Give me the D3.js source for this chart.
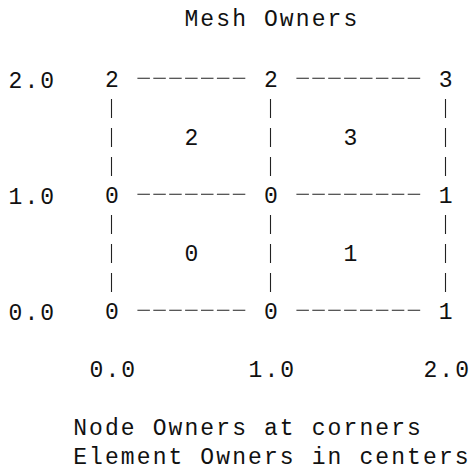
<!DOCTYPE html>
<html><head>
<meta charset="utf-8">
<title>Mesh Owners</title>
<script src="https://d3js.org/d3.v7.min.js"></script>
<style>
  body { margin: 0; background: white; }
  svg text { font-family: "Liberation Mono", "Courier New", monospace; font-size: 23px; letter-spacing: 2.1px; fill: #111; }
  .edge { stroke: #222; stroke-width: 1.1; fill: none; }
</style>
</head>
<body>
<svg id="chart" width="473" height="470"></svg>
<script>

// data: owners of the nodes (rows are y = 0, 1, 2; columns are x = 0, 1, 2)
const xTicks = [0, 1, 2];
const yTicks = [0, 1, 2];
const nodeOwners = [
  [0, 0, 1],
  [0, 0, 1],
  [2, 2, 3]
];
// element owners (rows are y cells 0-1, 1-2; columns x cells 0-1, 1-2)
const elementOwners = [
  [0, 1],
  [2, 3]
];
const title = "Mesh Owners";
const footer = ["Node Owners at corners", "Element Owners in centers"];

// everything sits on a character grid, like the text plot it copies
const ox = 8.5, cw = 15.9, topRow = 87, rh = 29;
const ls = 2.1; // letter spacing, trailing half is taken back on centred text
const colPx = c => ox + (c + 0.5) * cw;
const rowPx = r => topRow + r * rh;

// data -> grid cell
let xCol = d3.scaleLinear().domain([0, 2]).range([6, 27]);
let yRow = d3.scaleLinear().domain([0, 2]).range([8, 0]);
const col = v => Math.floor(xCol(v));
const row = v => Math.round(yRow(v));

// data -> pixel (for the axes)
let x = d3.scaleLinear().domain(xTicks).range(xTicks.map(v => colPx(col(v))));
let y = d3.scaleLinear().domain(yTicks).range(yTicks.map(v => rowPx(row(v))));

let svg = d3.select("#chart");

svg.append("text")
    .attr("x", colPx(16) + ls / 2)
    .attr("y", 26)
    .attr("text-anchor", "middle")
    .text(title);

// horizontal edges, dashed like a row of "-"
let hEdges = [];
yTicks.forEach(j => {
  for (let i = 0; i < xTicks.length - 1; i++) {
    let c0 = col(xTicks[i]), c1 = col(xTicks[i + 1]);
    hEdges.push({ c0: c0 + 2, c1: c1 - 1, r: row(j) });
  }
});
svg.selectAll(".hedge").data(hEdges).enter().append("line")
    .attr("class", "edge hedge")
    .attr("x1", d => ox + d.c0 * cw + 1.7)
    .attr("x2", d => ox + d.c1 * cw - 1.7)
    .attr("y1", d => rowPx(d.r) - 8.8)
    .attr("y2", d => rowPx(d.r) - 8.8)
    .attr("stroke-dasharray", (cw - 3.4) + "," + 3.4);

// vertical edges, short bars like "|"
let vEdges = [];
xTicks.forEach(i => {
  for (let j = 0; j < yTicks.length - 1; j++) {
    let r0 = row(yTicks[j + 1]), r1 = row(yTicks[j]);
    for (let r = r0 + 1; r < r1; r++) vEdges.push({ c: col(i), r: r });
  }
});
svg.selectAll(".vedge").data(vEdges).enter().append("line")
    .attr("class", "edge vedge")
    .attr("x1", d => Math.round(colPx(d.c)) - 0.5)
    .attr("x2", d => Math.round(colPx(d.c)) - 0.5)
    .attr("y1", d => rowPx(d.r) - 17)
    .attr("y2", d => rowPx(d.r) + 2);

// node owners at corners
let nodes = [];
nodeOwners.forEach((rowVals, j) => rowVals.forEach((v, i) => nodes.push({ i: i, j: j, v: v })));
svg.selectAll(".node").data(nodes).enter().append("text")
    .attr("class", "node")
    .attr("x", d => colPx(col(d.i)) + ls / 2)
    .attr("y", d => rowPx(row(d.j)))
    .attr("text-anchor", "middle")
    .text(d => d.v);

// element owners in centers
let elems = [];
elementOwners.forEach((rowVals, j) => rowVals.forEach((v, i) => elems.push({ i: i, j: j, v: v })));
svg.selectAll(".elem").data(elems).enter().append("text")
    .attr("class", "elem")
    .attr("x", d => colPx(col(d.i + 0.5)) + ls / 2)
    .attr("y", d => rowPx(row(d.j + 0.5)))
    .attr("text-anchor", "middle")
    .text(d => d.v);

// axes, no lines, only the labels
let xAxis = svg.append("g")
    .attr("transform", "translate(" + ls / 2 + "," + rowPx(10) + ")")
    .call(d3.axisBottom(x).tickValues(xTicks).tickFormat(d3.format(".1f")).tickSize(0).tickPadding(0));
let yAxis = svg.append("g")
    .attr("transform", "translate(" + (ox + 3 * cw) + ",0)")
    .call(d3.axisLeft(y).tickValues(yTicks).tickFormat(d3.format(".1f")).tickSize(0).tickPadding(0));
[xAxis, yAxis].forEach(g => {
  g.attr("font-size", null).attr("font-family", null);
  g.select(".domain").remove();
  g.selectAll("text").attr("dy", null).attr("y", 0).attr("fill", null);
});

svg.selectAll(".foot").data(footer).enter().append("text")
    .attr("class", "foot")
    .attr("x", ox + 4 * cw + ls / 2)
    .attr("y", (d, k) => rowPx(12 + k))
    .text(d => d);

</script>
</body>
</html>
